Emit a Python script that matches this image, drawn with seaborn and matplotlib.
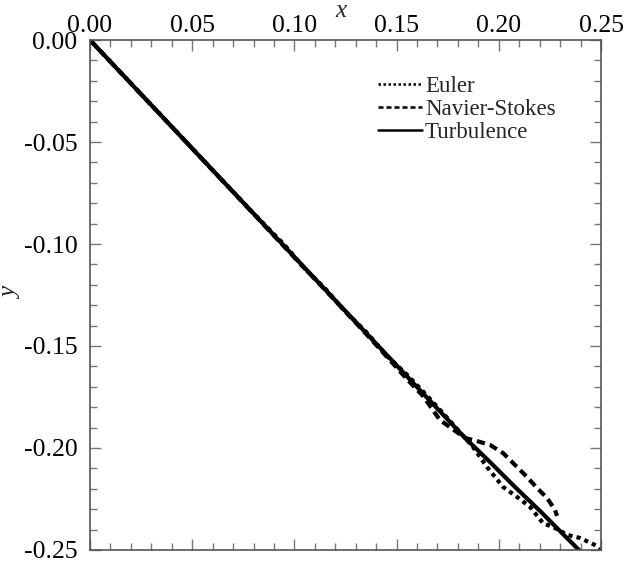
import matplotlib
matplotlib.use('Agg')
import matplotlib.pyplot as plt
from matplotlib.ticker import MultipleLocator
import seaborn as sns
import pandas as pd

# curve data
euler_x = [0.0, 0.04, 0.08, 0.095, 0.105, 0.115, 0.125, 0.135, 0.145, 0.155, 0.165,
           0.175, 0.1835, 0.1874, 0.1942, 0.2021, 0.2089, 0.2153, 0.2216, 0.2275,
           0.2334, 0.2397, 0.2480, 0.2500]
euler_y = [0.0, -0.0425, -0.0850, -0.1003, -0.1120, -0.1218, -0.1333, -0.1430, -0.1546,
           -0.1640, -0.1745, -0.1855, -0.1951, -0.1995, -0.2093, -0.2191, -0.2240,
           -0.2289, -0.2368, -0.2392, -0.2426, -0.2441, -0.2480, -0.2500]

ns_x = [0.0, 0.04, 0.08, 0.10, 0.12, 0.135, 0.145, 0.155, 0.1629, 0.1712, 0.1835,
        0.1893, 0.1957, 0.2021, 0.2070, 0.2138, 0.2187, 0.2236, 0.2275, 0.2285]
ns_y = [0.0, -0.0425, -0.0852, -0.1066, -0.1278, -0.1440, -0.1550, -0.1662, -0.1745,
        -0.1863, -0.1951, -0.1966, -0.1985, -0.2025, -0.2074, -0.2142, -0.2196,
        -0.2245, -0.2304, -0.2333]

turb_x = [0.0, 0.03, 0.06, 0.09, 0.12, 0.15, 0.1835, 0.1957, 0.2079, 0.2202, 0.2299,
          0.2397]
turb_y = [0.0, -0.0319, -0.0638, -0.0957, -0.1276, -0.1595, -0.1951, -0.2069, -0.2191,
          -0.2309, -0.2407, -0.2505]

labels = ['Euler', 'Navier-Stokes', 'Turbulence']

sns.set_style('white')
plt.rcParams['font.family'] = ['Liberation Serif', 'DejaVu Serif']

fig = plt.figure(figsize=(6.36, 5.66), dpi=100)
ax = fig.add_axes([0.1415, 0.0283, 0.8035, 0.901])

curves = [
    (euler_x, euler_y, (0, (1, 1))),
    (ns_x, ns_y, (0, (2.0, 1.2))),
    (turb_x, turb_y, '-'),
]
for (xs, ys, ls), name in zip(curves, labels):
    df = pd.DataFrame({'x': xs, 'y': ys})
    sns.lineplot(data=df, x='x', y='y', ax=ax, sort=False, estimator=None,
                 color='black', linestyle=ls, linewidth=3.0, label=name)

ax.set_xlim(0, 0.25)
ax.set_ylim(-0.25, 0)
ax.xaxis.set_major_locator(MultipleLocator(0.05))
ax.xaxis.set_minor_locator(MultipleLocator(0.01))
ax.yaxis.set_major_locator(MultipleLocator(0.05))
ax.yaxis.set_minor_locator(MultipleLocator(0.01))
ax.xaxis.set_major_formatter(lambda v, p: f'{v:.2f}')
ax.yaxis.set_major_formatter(lambda v, p: f'{v:.2f}'.replace('-0.00', '0.00'))

ax.xaxis.tick_top()
ax.tick_params(axis='both', which='both', direction='in', colors='#777777',
               labelcolor='black', labelsize=18.5, top=True, bottom=True,
               left=True, right=True, labeltop=True, labelbottom=False)
ax.tick_params(axis='both', which='major', length=8, width=1)
ax.tick_params(axis='both', which='minor', length=5, width=1)
ax.tick_params(axis='x', which='major', pad=2)
ax.tick_params(axis='y', which='major', pad=9)

for sp in ax.spines.values():
    sp.set_color('#555555')
    sp.set_linewidth(1.2)

ax.set_xlabel('x', fontsize=18, style='italic')
ax.xaxis.set_label_position('top')
ax.xaxis.set_label_coords(0.49, 1.045)
ax.set_ylabel('y', fontsize=18, style='italic')
ax.yaxis.set_label_coords(-0.133, 0.504)

leg = ax.legend(loc='upper left', bbox_to_anchor=(0.5636, 0.93), frameon=False,
                fontsize=16.5, handlelength=1.9, handletextpad=0.15,
                labelspacing=0.1, borderpad=0, borderaxespad=0)
for line in leg.get_lines():
    line.set_linewidth(1.8)

fig.savefig('out.png', dpi=100)
